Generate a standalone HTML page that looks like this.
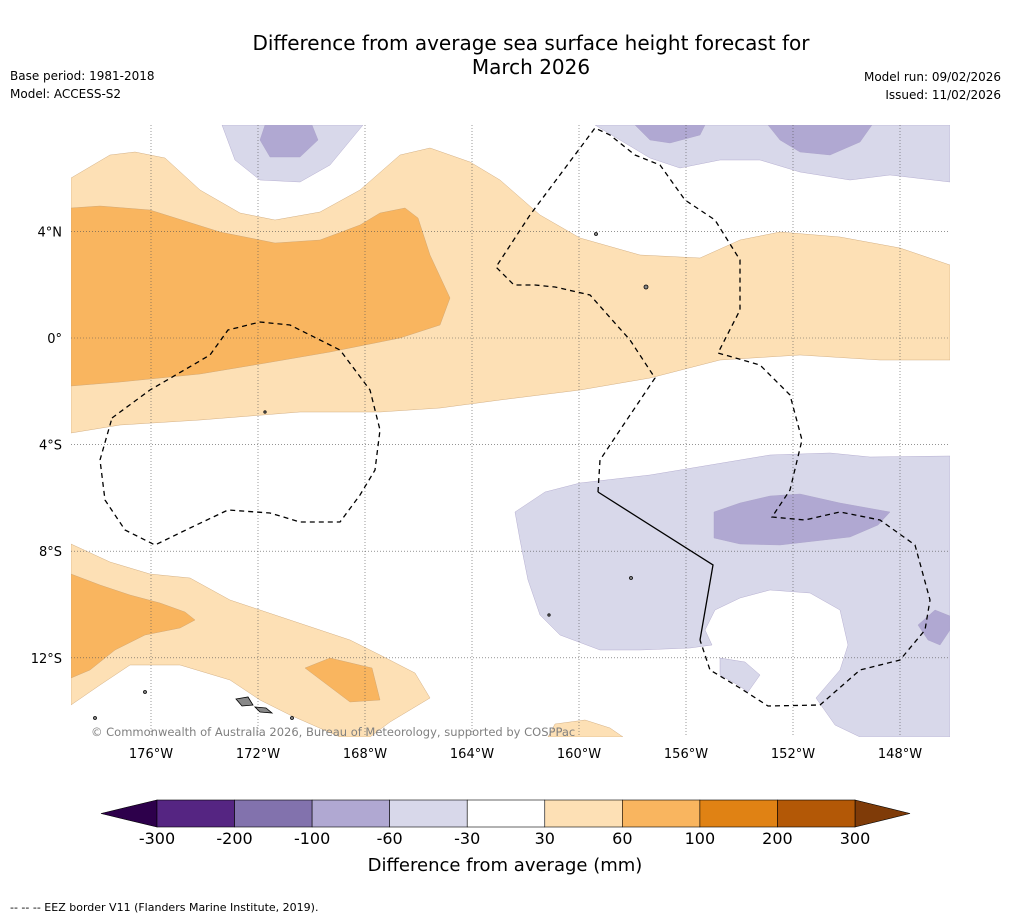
<!DOCTYPE html>
<html><head><meta charset="utf-8"><style>
body{margin:0;background:#fff;width:1011px;height:919px;overflow:hidden;font-family:"DejaVu Sans",sans-serif}
</style></head><body>
<svg width="1011" height="919" viewBox="0 0 1011 919" xmlns="http://www.w3.org/2000/svg" font-family="DejaVu Sans, sans-serif">
<text x="531" y="50" font-size="20" text-anchor="middle">Difference from average sea surface height forecast for</text>
<text x="531" y="74" font-size="20" text-anchor="middle">March 2026</text>
<text x="10" y="80" font-size="12">Base period: 1981-2018</text>
<text x="10" y="98" font-size="12">Model: ACCESS-S2</text>
<text x="1001" y="81" font-size="12" text-anchor="end">Model run: 09/02/2026</text>
<text x="1001" y="99" font-size="12" text-anchor="end">Issued: 11/02/2026</text>
<defs><clipPath id="mc"><rect x="71" y="125" width="879" height="612"/></clipPath></defs>
<g clip-path="url(#mc)">
<g stroke="#c8a070" stroke-width="0.4">
<polygon fill="#fde0b5" points="71,178 110,155 135,152 165,158 200,190 240,213 275,220 320,212 360,190 400,155 430,148 470,162 500,180 540,215 580,238 640,255 700,258 740,240 780,232 840,237 900,248 950,265 950,360 880,360 800,355 720,360 650,378 580,390 500,400 440,408 380,412 300,412 200,420 120,425 71,433"/>
<polygon fill="#f9b55f" points="71,208 100,206 150,210 220,232 275,243 320,240 360,225 380,213 405,208 418,218 430,255 450,298 440,325 400,338 330,352 260,364 200,374 120,382 71,386"/>
<polygon fill="#fde0b5" points="71,544 110,562 150,574 190,578 230,600 290,620 350,640 380,655 415,673 430,698 390,722 370,737 340,737 290,715 260,700 230,680 180,665 130,665 100,685 71,705"/>
<polygon fill="#f9b55f" points="71,574 100,585 130,595 160,603 185,612 195,620 180,628 145,635 115,650 90,670 71,678"/>
<polygon fill="#f9b55f" points="305,668 330,658 372,668 380,700 350,702"/>
<polygon fill="#fde0b5" points="548,737 555,724 585,720 610,728 623,737"/>
</g>
<g stroke="#a8a0c8" stroke-width="0.4">
<polygon fill="#d8d8ea" points="222,125 235,160 260,180 300,182 330,165 363,125"/>
<polygon fill="#b0a8d2" points="265,125 260,140 270,157 300,157 318,140 312,125"/>
<polygon fill="#d8d8ea" points="595,125 620,140 650,158 680,168 720,160 760,160 800,172 850,180 890,175 950,182 950,125"/>
<polygon fill="#b0a8d2" points="635,125 650,140 670,143 700,135 705,125"/>
<polygon fill="#b0a8d2" points="768,125 780,140 800,152 830,155 860,142 872,125"/>
<polygon fill="#d8d8ea" points="515,512 545,492 580,483 650,475 710,465 770,455 830,453 870,457 950,456 950,737 860,737 835,725 816,698 840,670 848,645 840,610 810,593 770,590 740,598 715,610 705,630 712,645 690,648 640,650 600,650 560,635 540,615 528,580 520,540"/>
<polygon fill="#b0a8d2" points="714,512 740,503 770,496 800,494 840,503 890,512 878,525 850,537 780,545 740,544 714,538"/>
<polygon fill="#b0a8d2" points="918,625 935,610 950,616 950,630 940,645 928,640"/>
<polygon fill="#d8d8ea" points="720,658 745,662 760,675 748,692 738,685 720,675"/>
</g>
<g id="grid" stroke="#555" stroke-width="0.6" stroke-dasharray="1,2"></g>
<g fill="none" stroke="#000" stroke-width="1.3" stroke-dasharray="5,4">
<polyline points="112,418 150,390 210,355 228,330 260,322 290,325 340,350 370,390 380,430 375,470 360,495 340,522 300,522 270,513 228,510 190,528 155,545 125,530 105,500 100,460 112,418"/>
<polyline points="598,492 600,460 620,430 655,378 630,340 590,295 555,287 535,285 514,285 496,267 530,215 595,128 610,135 635,155 660,165 685,200 715,220 740,260 740,310 718,353 760,365 790,395 802,440 790,490 772,517 805,520 840,512 880,520 915,545 930,600 925,630 900,660 860,670 820,705 768,706 740,688 710,670 700,640"/>
</g>
<polyline fill="none" stroke="#000" stroke-width="1.3" points="598,492 713,565 700,640"/>
<g fill="#888" stroke="#000" stroke-width="0.8">
<polygon points="236,699 248,697 253,705 242,706"/><polygon points="255,707 266,708 272,713 260,712"/>
<circle cx="646" cy="287" r="2"/><circle cx="596" cy="234" r="1.5"/><circle cx="145" cy="692" r="1.5"/><circle cx="631" cy="578" r="1.5"/><circle cx="292" cy="718" r="1.5"/><circle cx="95" cy="718" r="1.5"/><circle cx="265" cy="412" r="1.2"/><circle cx="549" cy="615" r="1.2"/>
</g>
</g>
<text x="91" y="736" font-size="11.5" fill="#808080">© Commonwealth of Australia 2026, Bureau of Meteorology, supported by COSPPac</text>
<g id="axes" font-size="13"></g>
<g id="cbar"></g>
<text x="505" y="871" font-size="18" text-anchor="middle">Difference from average (mm)</text>
<text x="10" y="911" font-size="11">-- -- -- EEZ border V11 (Flanders Marine Institute, 2019).</text>
</svg>
<script>
const lonTicks=[-176,-172,-168,-164,-160,-156,-152,-148];
const lonLabels=["176°W","172°W","168°W","164°W","160°W","156°W","152°W","148°W"];
const latTicks=[4,0,-4,-8,-12];
const latLabels=["4°N","0°","4°S","8°S","12°S"];
const levels=[-300,-200,-100,-60,-30,30,60,100,200,300];
const levelColors=["#552582","#8272ad","#b0a8d2","#d8d8ea","#ffffff","#fde0b5","#f9b55f","#e08214","#b35806"];
const NS="http://www.w3.org/2000/svg";
const xLon=l=>151+(l+176)*26.75, yLat=a=>338-a*26.65;
const grid=document.getElementById('grid'),axes=document.getElementById('axes'),cb=document.getElementById('cbar');
function mk(tag,attrs,parent){const e=document.createElementNS(NS,tag);for(const k in attrs)e.setAttribute(k,attrs[k]);parent.appendChild(e);return e;}
lonTicks.forEach((l,i)=>{const x=xLon(l);
const g=mk('line',{x1:x,x2:x,y1:125,y2:737},grid);


const t=mk('text',{x:x,y:758,'text-anchor':'middle'},axes);t.textContent=lonLabels[i];

});
latTicks.forEach((a,i)=>{const y=yLat(a);
const g=mk('line',{x1:71,x2:950,y1:y,y2:y},grid);


const t=mk('text',{x:62,y:y+5,'text-anchor':'end'},axes);t.textContent=latLabels[i];

});
const cx0=157,cx1=855,seg=(cx1-cx0)/(levels.length-1),cy=800,ch=27;
const lt=mk('polygon',{points:`${cx0},${cy} ${cx0},${cy+ch} 101,${cy+ch/2}`,fill:"#2d004b",stroke:"#000","stroke-width":0.6},cb);


const rt=mk('polygon',{points:`${cx1},${cy} ${cx1},${cy+ch} 910,${cy+ch/2}`,fill:"#7f3b08",stroke:"#000","stroke-width":0.6},cb);


levelColors.forEach((c,i)=>{const r=mk('rect',{x:cx0+i*seg,y:cy,width:seg,height:ch,fill:c,stroke:"#000","stroke-width":0.6},cb);

});
levels.forEach((v,i)=>{const t=mk('text',{x:cx0+i*seg,y:844,'text-anchor':'middle','font-size':16},cb);t.textContent=v;

});
</script>
</body></html>
